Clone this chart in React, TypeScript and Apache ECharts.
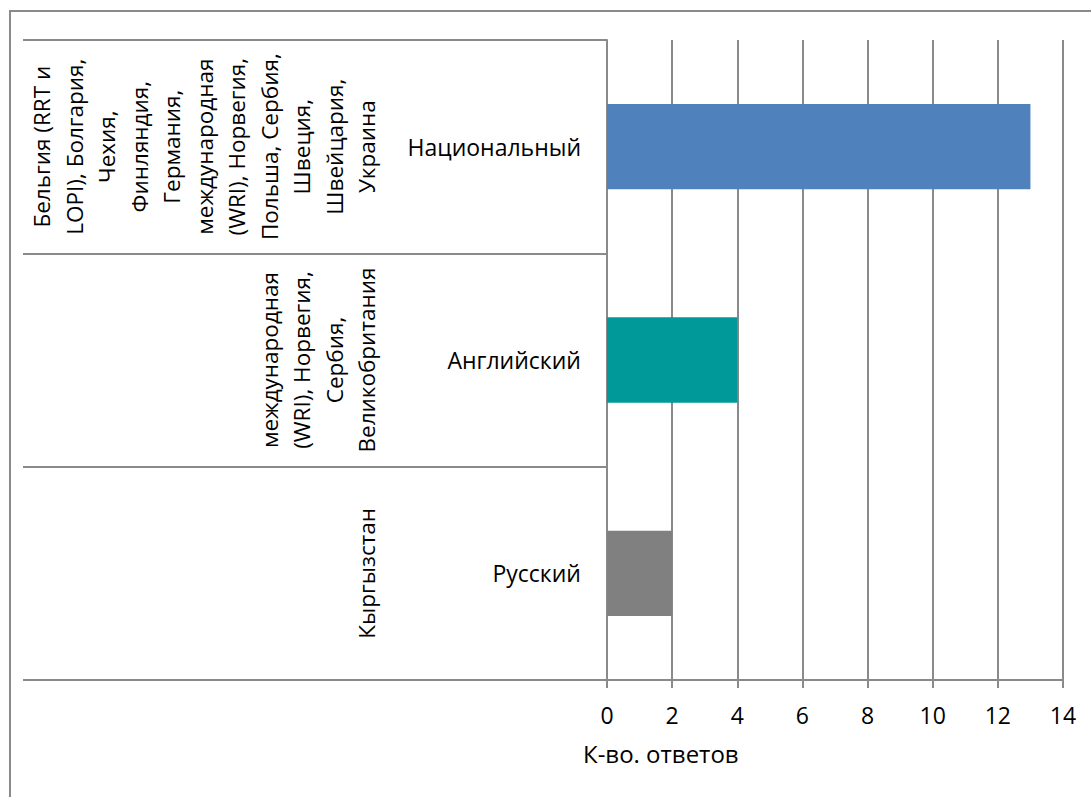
import React, { useEffect, useRef } from "react";
import * as echarts from "echarts";

const categories = ["Национальный", "Английский", "Русский"];
const countryLines = [
  [
    "Бельгия (RRT и",
    "LOPI), Болгария,",
    "Чехия,",
    "Финляндия,",
    "Германия,",
    "международная",
    "(WRI), Норвегия,",
    "Польша, Сербия,",
    "Швеция,",
    "Швейцария,",
    "Украина",
  ],
  ["международная", "(WRI), Норвегия,", "Сербия,", "Великобритания"],
  ["Кыргызстан"],
];
const values = [13, 4, 2];
const barColors = ["#4F81BD", "#009999", "#808080"];
const xMin = 0;
const xMax = 14;
const xInterval = 2;
const axisTitle = "К-во. ответов";

const FONT = "Open Sans";
const GRAY = "#8a8a8a";

export default function App() {
  const ref = useRef<HTMLDivElement>(null);

  useEffect(() => {
    if (!ref.current) return;
    const chart = echarts.init(ref.current, null, { renderer: "svg" });
    chart.setOption({
      animation: false,
      backgroundColor: "#ffffff",
      textStyle: { fontFamily: FONT },
      title: {
        text: axisTitle,
        left: 583,
        top: 741,
        padding: 0,
        textStyle: { fontFamily: FONT, fontSize: 24, fontWeight: "normal", color: "#000" },
      },
      graphic: [
        {
          type: "rect",
          silent: true,
          shape: { x: 10, y: 11, width: 1100, height: 800 },
          style: { fill: "none", stroke: GRAY, lineWidth: 2 },
        },
      ],
      grid: { left: 607, right: 28, top: 40, bottom: 117, containLabel: false },
      xAxis: {
        type: "value",
        min: xMin,
        max: xMax,
        interval: xInterval,
        axisLine: { show: true, lineStyle: { color: GRAY, width: 2 } },
        axisTick: { show: true, length: 8, lineStyle: { color: GRAY, width: 2 } },
        splitLine: { show: true, lineStyle: { color: GRAY, width: 2 } },
        axisLabel: { fontFamily: FONT, fontSize: 23, color: "#000", margin: 23 },
      },
      yAxis: [
        {
          type: "category",
          inverse: true,
          data: categories,
          position: "left",
          axisLine: { show: true, lineStyle: { color: GRAY, width: 2 } },
          axisTick: { show: true, length: 584, lineStyle: { color: GRAY, width: 2 } },
          splitLine: { show: false },
          axisLabel: { fontFamily: FONT, fontSize: 23, color: "#000", margin: 26, interval: 0 },
        },
        {
          type: "category",
          inverse: true,
          data: categories,
          position: "left",
          offset: 200,
          axisLine: { show: false },
          axisTick: { show: false },
          splitLine: { show: false },
          axisLabel: {
            interval: 0,
            rotate: 90,
            margin: 24,
            fontFamily: FONT,
            fontSize: 22.5,
            lineHeight: 32.5,
            color: "#000",
            formatter: (_v: string, i: number) => countryLines[i].join("\n"),
          },
        },
      ],
      series: [
        {
          type: "bar",
          yAxisIndex: 0,
          barWidth: "40%",
          data: values.map((v, i) => ({ value: v, itemStyle: { color: barColors[i] } })),
        },
      ],
    });
    return () => chart.dispose();
  }, []);

  return (
    <div
      ref={ref}
      style={{ position: "absolute", left: 0, top: 0, width: 1091, height: 797 }}
    />
  );
}
